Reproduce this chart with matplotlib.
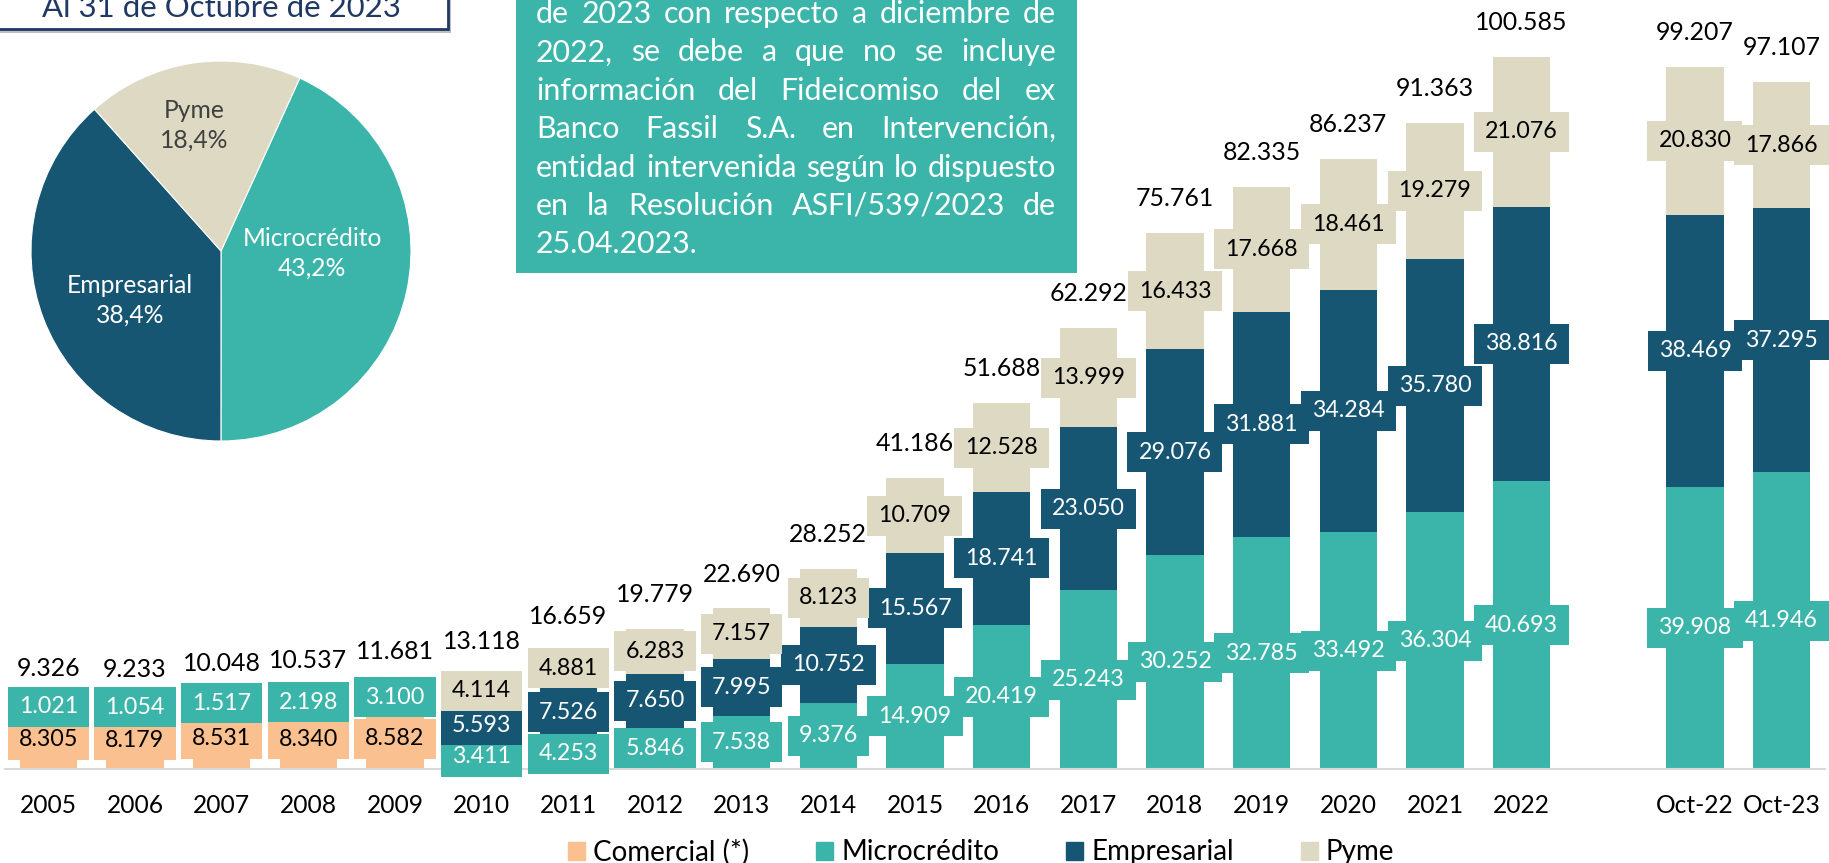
import numpy as np
import matplotlib
matplotlib.use('Agg')
import matplotlib.pyplot as plt
from matplotlib.patches import Rectangle, Patch
from matplotlib.path import Path

plt.rcParams['font.family'] = ['Lato', 'DejaVu Sans']

# cartera por tipo de credito (millones de Bs, punto como separador de miles)
categorias = ['2005', '2006', '2007', '2008', '2009', '2010', '2011', '2012', '2013',
              '2014', '2015', '2016', '2017', '2018', '2019', '2020', '2021', '2022',
              'Oct-22', 'Oct-23']
comercial = [8.305, 8.179, 8.531, 8.340, 8.582] + [0] * 15
microcredito = [1.021, 1.054, 1.517, 2.198, 3.100, 3.411, 4.253, 5.846, 7.538, 9.376,
                14.909, 20.419, 25.243, 30.252, 32.785, 33.492, 36.304, 40.693,
                39.908, 41.946]
empresarial = [0] * 5 + [5.593, 7.526, 7.650, 7.995, 10.752, 15.567, 18.741, 23.050,
                         29.076, 31.881, 34.284, 35.780, 38.816, 38.469, 37.295]
pyme = [0] * 5 + [4.114, 4.881, 6.283, 7.157, 8.123, 10.709, 12.528, 13.999, 16.433,
                  17.668, 18.461, 19.279, 21.076, 20.830, 17.866]
totales = [9.326, 9.233, 10.048, 10.537, 11.681, 13.118, 16.659, 19.779, 22.690, 28.252,
           41.186, 51.688, 62.292, 75.761, 82.335, 86.237, 91.363, 100.585, 99.207, 97.107]

pie_nombres = ['Microcrédito', 'Empresarial', 'Pyme']
pie_pct = [43.2, 38.4, 18.4]

titulo = 'Al 31 de Octubre de 2023'
nota = ['de 2023 con respecto a diciembre de',
        '2022, se debe a que no se incluye',
        'información del Fideicomiso del ex',
        'Banco Fassil S.A. en Intervención,',
        'entidad intervenida según lo dispuesto',
        'en la Resolución ASFI/539/2023 de',
        '25.04.2023.']

C_COM = '#FAC090'
C_MIC = '#3BB5A9'
C_EMP = '#175673'
C_PYM = '#DDD9C3'
NAVY = '#1F3864'

W, H = 1829, 863
fig = plt.figure(figsize=(W / 100, H / 100), dpi=100)
renderer = fig.canvas.get_renderer()


def fx(x):
    return x / W


def fy(y):
    return 1 - y / H


def ancho(txt, size):
    t = fig.text(0, 0, txt, fontsize=size)
    w = t.get_window_extent(renderer).width
    t.remove()
    return w


def ajustar(txt, px):
    # tamaño de letra para que el texto mida px pixeles de ancho
    return 20 * px / ancho(txt, 20)


fs_seg = ajustar('38.816', 73)
fs_tot = ajustar('10.048', 78)
fs_tick = ajustar('2005', 57)
fs_leg = ajustar('Comercial (*)', 156)
fs_pie = ajustar('Microcrédito', 140)

# ---- barras apiladas ----
ax = fig.add_axes([fx(5), 94 / H, (1825 - 5) / W, 769 / H])
pos = np.r_[np.arange(18), 19, 20]


def caja(x0, y0, width, height, mutation_size):
    # caja de etiqueta tipo Excel: margen lateral fijo, alto fijo
    padx, alto = 11, 40
    cy = y0 + height / 2
    x1, x2 = x0 - padx, x0 + width + padx
    y1, y2 = cy - alto / 2, cy + alto / 2
    return Path([(x1, y1), (x2, y1), (x2, y2), (x1, y2), (x1, y1)], closed=True)


series = [('Comercial (*)', comercial, C_COM, 'black'),
          ('Microcrédito', microcredito, C_MIC, 'white'),
          ('Empresarial', empresarial, C_EMP, 'white'),
          ('Pyme', pyme, C_PYM, 'black')]

base = np.zeros(len(categorias))
for nombre, vals, color, tcol in series:
    vals = np.array(vals, dtype=float)
    ax.bar(pos, vals, 0.663, bottom=base, color=color, zorder=2)
    for x, b, v in zip(pos, base, vals):
        if v > 0:
            ax.text(x, b + v / 2, f'{v:.3f}', ha='center', va='center', color=tcol,
                    fontsize=fs_seg, zorder=3,
                    bbox=dict(boxstyle=caja, fc=color, ec='none'))
    base += vals

for x, t, top in zip(pos, totales, base):
    ax.annotate(f'{t:.3f}', (x, top), xytext=(0, 24.8), textcoords='offset points',
                ha='center', va='center', fontsize=fs_tot, color='black')

ax.set_xlim(-0.5, 20.5)
ax.set_ylim(0, 108.7)
ax.set_yticks([])
ax.set_xticks(pos, categorias, fontsize=fs_tick)
ax.tick_params(axis='x', length=0, pad=26)
for lab in ax.get_xticklabels():
    lab.set_va('center')
for s in ['top', 'left', 'right']:
    ax.spines[s].set_visible(False)
ax.spines['bottom'].set_color('#D9D9D9')
ax.spines['bottom'].set_linewidth(1.5)
ax.patch.set_visible(False)

# ---- torta ----
axp = fig.add_axes([fx(221 - 190), fy(251 + 190), 380 / W, 380 / H])
axp.pie(pie_pct, colors=[C_MIC, C_EMP, C_PYM], startangle=65.5, counterclock=False,
        wedgeprops=dict(edgecolor='white', linewidth=0.8))
axp.set_xlim(-1, 1)
axp.set_ylim(-1, 1)
pie_pos = [(0.48, -0.01), (-0.48, -0.26), (-0.14, 0.66)]
pie_col = ['white', 'white', '#404040']
for n, p, (lx, ly), c in zip(pie_nombres, pie_pct, pie_pos, pie_col):
    axp.text(lx, ly, f'{n}\n{p:.1f}%'.replace('.', ','), ha='center', va='center',
             fontsize=fs_pie, color=c, linespacing=1.35)

# ---- recuadro del titulo ----
fig.add_artist(Rectangle((fx(-7), fy(33)), 458 / W, 60 / H, transform=fig.transFigure,
                         fc='#BFBFBF', ec='none', zorder=1))
fig.add_artist(Rectangle((fx(-10), fy(29)), 458 / W, 60 / H, transform=fig.transFigure,
                         fc='white', ec=NAVY, lw=2, zorder=1.5))
fig.text(fx(221), fy(17), titulo, ha='center', va='baseline',
         fontsize=ajustar(titulo, 358), color=NAVY, zorder=3)

# ---- nota ----
fig.add_artist(Rectangle((fx(516), fy(273)), (1077 - 516) / W, 300 / H,
                         transform=fig.transFigure, fc=C_MIC, ec='none', zorder=1))
n_size = ajustar('entidad intervenida según lo dispuesto', 516)
x_izq, x_der = 536, 1056
for i, linea in enumerate(nota):
    y = 14 + i * 38.4
    palabras = linea.split()
    if i == len(nota) - 1:
        fig.text(fx(x_izq), fy(y), linea, va='center', fontsize=n_size, color='white')
        continue
    ws = [ancho(p, n_size) for p in palabras]
    hueco = (x_der - x_izq - sum(ws)) / (len(palabras) - 1)
    x = x_izq
    for p, w in zip(palabras, ws):
        fig.text(fx(x), fy(y), p, va='center', fontsize=n_size, color='white')
        x += w + hueco

# ---- leyenda ----
handles = [Patch(color=c) for _, _, c, _ in series]
fpx = fs_leg * 100 / 72
fig.legend(handles, [s[0] for s in series], loc='center left',
           bbox_to_anchor=(fx(568), fy(852)), ncol=4, frameon=False, fontsize=fs_leg,
           handlelength=17 / fpx, handleheight=17 / fpx, handletextpad=8 / fpx,
           columnspacing=67 / fpx, borderpad=0, borderaxespad=0)

fig.savefig('out.png', dpi=100)
